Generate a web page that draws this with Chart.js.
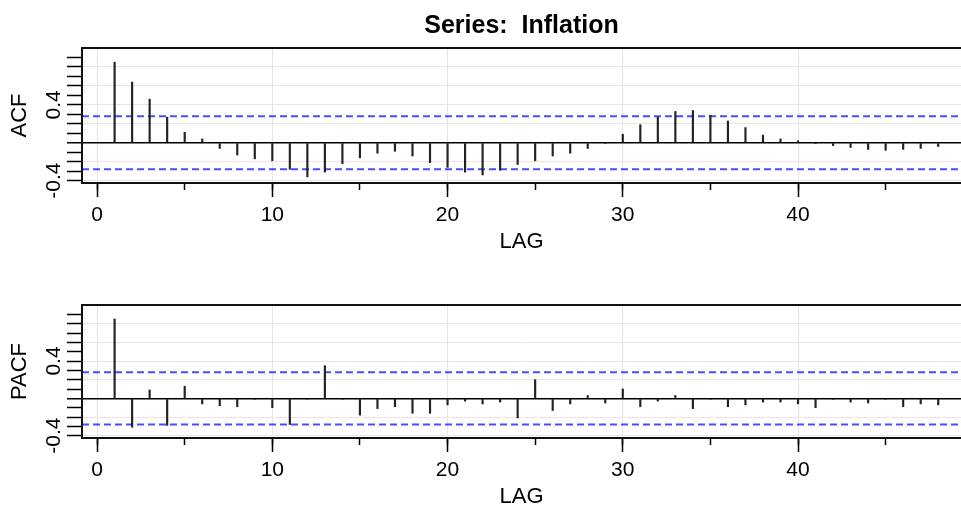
<!DOCTYPE html>
<html>
<head>
<meta charset="utf-8">
<title>Series: Inflation</title>
<script src="https://cdn.jsdelivr.net/npm/chart.js@4.4.1/dist/chart.umd.min.js"></script>
<style>
    html, body { margin: 0; padding: 0; background: #fff; }
    #wrap { position: relative; width: 961px; height: 511px; overflow: hidden; }
    canvas { position: absolute; left: 0; }
</style>
</head>
<body>
<div id="wrap">
    <canvas id="acfChart" width="961" height="256" style="top:0px"></canvas>
    <canvas id="pacfChart" width="961" height="255" style="top:256px"></canvas>
</div>
<script>
// lags 1..48
const lags = [1, 2, 3, 4, 5, 6, 7, 8, 9, 10, 11, 12, 13, 14, 15, 16, 17, 18, 19, 20, 21, 22, 23, 24,
    25, 26, 27, 28, 29, 30, 31, 32, 33, 34, 35, 36, 37, 38, 39, 40, 41, 42, 43, 44, 45, 46, 47, 48];

const acfValues = [0.85, 0.64, 0.46, 0.27, 0.11, 0.04, -0.06, -0.13, -0.17, -0.19, -0.28, -0.36,
    -0.31, -0.22, -0.16, -0.11, -0.09, -0.14, -0.21, -0.26, -0.31, -0.34, -0.29, -0.23,
    -0.19, -0.14, -0.11, -0.06, -0.01, 0.09, 0.19, 0.27, 0.33, 0.34, 0.29, 0.23,
    0.16, 0.08, 0.04, 0.02, -0.01, -0.03, -0.05, -0.07, -0.08, -0.07, -0.06, -0.04];

const pacfValues = [0.85, -0.31, 0.09, -0.29, 0.13, -0.06, -0.08, -0.09, -0.01, -0.10, -0.28, -0.01,
    0.35, -0.01, -0.18, -0.11, -0.09, -0.16, -0.16, -0.07, -0.03, -0.06, -0.04, -0.21,
    0.20, -0.13, -0.06, 0.03, -0.05, 0.10, -0.09, -0.03, 0.03, -0.11, -0.01, -0.09,
    -0.07, -0.04, -0.04, -0.06, -0.10, -0.01, -0.04, -0.05, -0.01, -0.09, -0.06, -0.07];

// 신뢰구간 (2/sqrt(n))
const ciBound = 0.28;
const lagRange = [-0.86, 49.3];
const yRange = [-0.425, 1];
const yTickValues = [-0.4, 0.4];
const yTickLabels = ['-0.4', '0.4'];

Chart.defaults.font.family = '"Liberation Sans", Arial, Helvetica, sans-serif';
Chart.defaults.color = '#000';

// 테두리 + 회전된 y축 라벨
const framePlugin = {
    id: 'frame',
    afterDraw(chart) {
        const ctx = chart.ctx;
        const a = chart.chartArea;
        ctx.save();
        ctx.strokeStyle = '#111';
        ctx.lineWidth = 2;
        ctx.strokeRect(a.left, a.top, a.right - a.left + 10, a.bottom - a.top);

        const y = chart.scales.y;
        ctx.fillStyle = '#000';
        ctx.font = '21px "Liberation Sans", Arial, sans-serif';
        ctx.textAlign = 'center';
        ctx.textBaseline = 'middle';
        yTickLabels.forEach(function (label, i) {
            ctx.save();
            ctx.translate(54, y.getPixelForValue(yTickValues[i]));
            ctx.rotate(-Math.PI / 2);
            ctx.fillText(label, 0, 0);
            ctx.restore();
        });
        ctx.restore();
    }
};

function yGridColor(c) {
    if (!c.tick) return 'rgba(0,0,0,0)';
    const v = Math.round(c.tick.value * 10);
    if (v === 0) return '#000';
    return v % 2 === 0 ? '#e6e6e6' : 'rgba(0,0,0,0)';
}

function makeChart(id, values, yTitle, title, padTop) {
    const ciLine = function (level) {
        return {
            type: 'line',
            data: lagRange.map(x => ({ x: x, y: level })),
            borderColor: 'rgba(30,30,255,0.8)',
            borderWidth: 2,
            borderDash: [7, 4],
            pointRadius: 0,
            order: 1
        };
    };

    return new Chart(document.getElementById(id), {
        type: 'bar',
        data: {
            datasets: [
                {
                    type: 'bar',
                    data: lags.map((l, i) => ({ x: l, y: values[i] })),
                    backgroundColor: '#222',
                    barThickness: 1.5,
                    order: 0
                },
                ciLine(ciBound),
                ciLine(-ciBound)
            ]
        },
        options: {
            responsive: false,
            animation: false,
            devicePixelRatio: 1,
            layout: { padding: { top: padTop, left: 0, right: 0, bottom: 0 } },
            plugins: {
                legend: { display: false },
                tooltip: { enabled: false },
                title: {
                    display: !!title,
                    text: title,
                    fullSize: false,
                    color: '#000',
                    font: { size: 25, weight: 'bold' },
                    padding: { top: 11, bottom: 7 }
                }
            },
            scales: {
                x: {
                    type: 'linear',
                    min: lagRange[0],
                    max: lagRange[1],
                    offset: false,
                    weight: 1,
                    ticks: { stepSize: 10, includeBounds: false, font: { size: 21 }, padding: 6, maxRotation: 0 },
                    grid: { offset: false, color: '#e6e6e6', lineWidth: 1, tickLength: 14, tickColor: '#000', tickWidth: 1.5 },
                    border: { display: false },
                    title: { display: true, text: 'LAG', font: { size: 22 }, padding: { top: 0, bottom: 1 } },
                    afterFit: function (s) { s.height = 73; }
                },
                xMinor: {
                    type: 'linear',
                    position: 'bottom',
                    min: lagRange[0],
                    max: lagRange[1],
                    offset: false,
                    weight: 0,
                    ticks: { display: false, stepSize: 5, includeBounds: false },
                    grid: { offset: false, drawOnChartArea: false, tickLength: 7, tickColor: '#000', tickWidth: 1.5 },
                    border: { display: false },
                    afterFit: function (s) { s.height = 0; }
                },
                y: {
                    min: yRange[0],
                    max: yRange[1],
                    ticks: { display: false, stepSize: 0.1, includeBounds: false },
                    afterBuildTicks: function (s) { s.ticks = s.ticks.filter(t => t.value < 0.95); },
                    grid: {
                        color: yGridColor,
                        lineWidth: c => (c.tick && Math.round(c.tick.value * 10) === 0) ? 1.5 : 1,
                        tickLength: 15,
                        tickColor: '#000',
                        tickWidth: 1.5
                    },
                    border: { display: false },
                    title: { display: true, text: yTitle, font: { size: 22 }, padding: { top: 7, bottom: 0 } },
                    afterFit: function (s) { s.width = 82; }
                }
            }
        },
        plugins: [framePlugin]
    });
}

makeChart('acfChart', acfValues, 'ACF', 'Series:  Inflation', 0);
makeChart('pacfChart', pacfValues, 'PACF', '', 49);
</script>
</body>
</html>
